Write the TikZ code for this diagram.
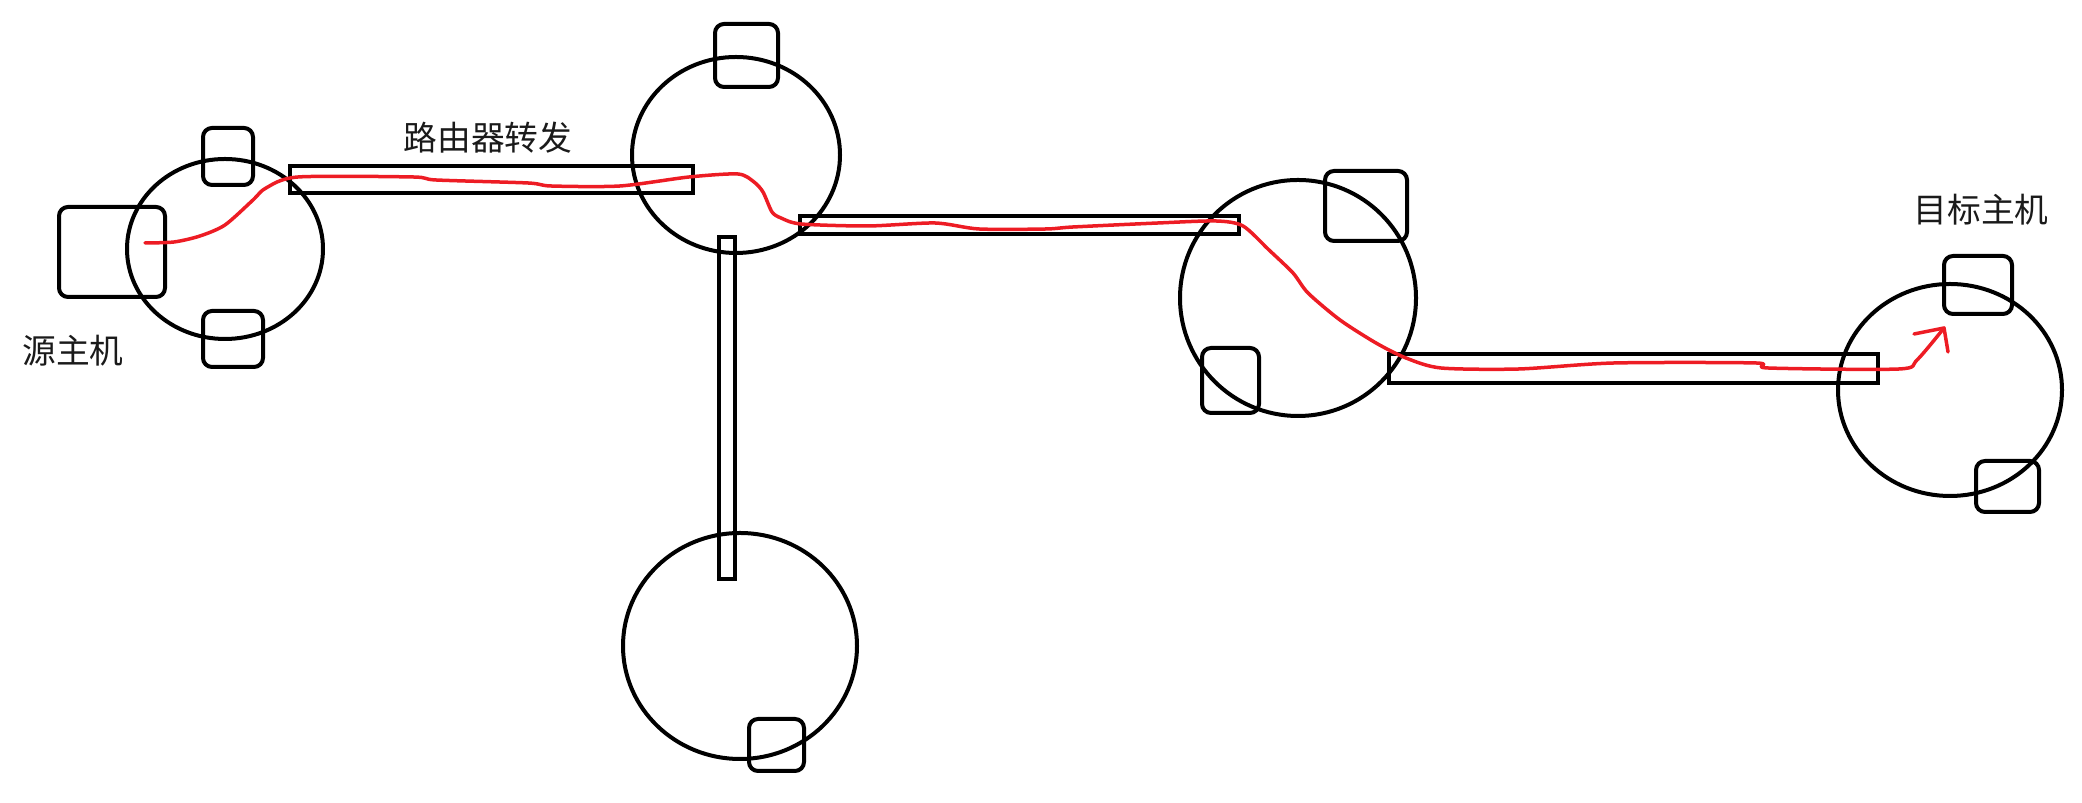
\documentclass[tikz,border=0pt]{standalone}
\usepackage{fontspec}
\newfontfamily\cjk{Noto Sans CJK SC}
\definecolor{paintred}{HTML}{ED1C24}
\definecolor{txt}{HTML}{1A1A1A}
\tikzset{
  outline/.style={draw=black, line width=0.4mm},
  port/.style={draw=black, line width=0.4mm, rounded corners=0.9mm},
  link/.style={draw=black, line width=0.4mm},
  route/.style={draw=paintred, line width=0.35mm, line join=round, line cap=round},
  lbl/.style={font=\cjk\fontsize{9.6pt}{11pt}\selectfont, text=txt, inner sep=0pt}
}
\begin{document}
\begin{tikzpicture}[x=0.1mm, y=-0.1mm]
\useasboundingbox (0,0) rectangle (2082,803);
% networks (ellipses)
\draw[outline] (225,249) ellipse [x radius=98, y radius=90];
\draw[outline] (736,155) ellipse [x radius=104, y radius=98];
\draw[outline] (1298,298) ellipse [x radius=118, y radius=118];
\draw[outline] (1950,390) ellipse [x radius=112, y radius=106];
\draw[outline] (740,646) ellipse [x radius=117, y radius=113];
% hosts (rounded boxes)
\draw[port] (203,128) rectangle (253,185);
\draw[port] (59,207) rectangle (165,297);
\draw[port] (203,311) rectangle (263,367);
\draw[port] (715,24) rectangle (778,87);
\draw[port] (1325,171) rectangle (1407,241);
\draw[port] (1202,348) rectangle (1259,413);
\draw[port] (1944,256) rectangle (2012,314);
\draw[port] (1976,461) rectangle (2039,512);
\draw[port] (749,719) rectangle (804,771);
% links (routers)
\draw[link] (290,166) rectangle (693,193);
\draw[link] (800,216) rectangle (1239,234);
\draw[link] (1389,354) rectangle (1878,383);
\draw[link] (719,237) rectangle (735,579);
% labels
\node[lbl] (router) at (488,138) {路由器转发};
\node[lbl] (src) at (73,351) {源主机};
\node[lbl] (dst) at (1981,210) {目标主机};
% route
\coordinate (start) at (145,243);
\coordinate (tip) at (1944,328);
\draw[route] plot[smooth, tension=0.45] coordinates {
 (start) (174,242) (200,236) (225,225) (253,200) (266,188) (298,177)
 (413,177) (436,180) (528,183) (551,186) (620,186) (689,177) (738,174)
 (754,182) (763,192) (772,212) (781,218) (801,224) (868,226) (935,223)
 (979,229) (1046,229) (1073,227) (1158,223) (1216,221) (1243,226)
 (1269,250) (1293,273) (1308,293) (1340,320) (1376,343) (1406,358)
 (1441,368) (1519,369) (1614,363) (1756,363) (1768,368) (1899,369)
 (1917,360) (tip)};
\draw[route] (1914,334) -- (tip) -- (1948,352);
\end{tikzpicture}
\end{document}
